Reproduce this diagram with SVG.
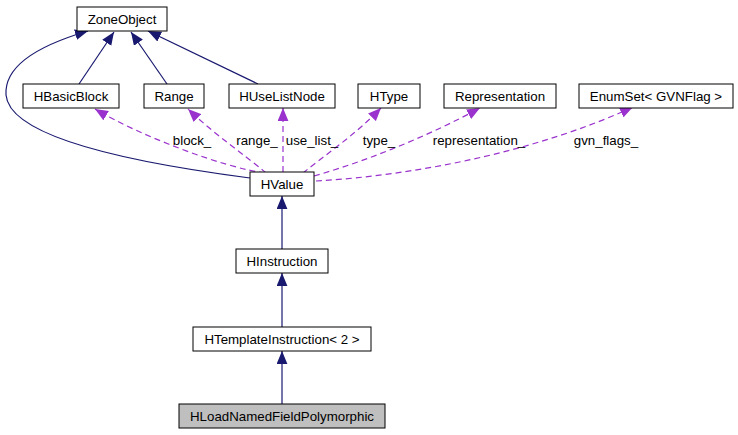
<svg xmlns="http://www.w3.org/2000/svg" width="738" height="435" viewBox="0 0 738 435">
<style>
.n rect{fill:#fff;stroke:#000;stroke-width:1}
.n text,.lbl{font-family:"Liberation Sans",Arial,sans-serif;font-size:13.3px;fill:#000;text-anchor:middle}
.inh{fill:none;stroke:#191970;stroke-width:1.2}
.use{fill:none;stroke:#9a32cd;stroke-width:1.2;stroke-dasharray:6,4}
</style>
<defs>
<marker id="ai" markerUnits="userSpaceOnUse" markerWidth="13" markerHeight="11" refX="12" refY="5" orient="auto" viewBox="0 0 12 10"><path d="M0,0 L12,5 L0,10 Z" fill="#191970"/></marker>
<marker id="au" markerUnits="userSpaceOnUse" markerWidth="13" markerHeight="11" refX="12" refY="5" orient="auto" viewBox="0 0 12 10"><path d="M0,0 L12,5 L0,10 Z" fill="#9a32cd"/></marker>
</defs>
<rect width="738" height="435" fill="#fff"/>
<g id="connectors">
<path class="inh" d="M79,84 L114,32" marker-end="url(#ai)"/>
<path class="inh" d="M167,84 L131,32" marker-end="url(#ai)"/>
<path class="inh" d="M258,84 L148,31" marker-end="url(#ai)"/>
<path class="inh" d="M250,178 C150,165 10,140 6,95 C4,65 40,45 88,31" marker-end="url(#ai)"/>
<path class="inh" d="M282,249 L282,196" marker-end="url(#ai)"/>
<path class="inh" d="M282,327 L282,273" marker-end="url(#ai)"/>
<path class="inh" d="M282,404 L282,351" marker-end="url(#ai)"/>
<path class="use" d="M265,173 C225,168 140,136 95,109" marker-end="url(#au)"/>
<path class="use" d="M266,173 C245,155 215,135 188,109" marker-end="url(#au)"/>
<path class="use" d="M283,172 L283,108" marker-end="url(#au)"/>
<path class="use" d="M303,173 C325,155 355,135 381,108" marker-end="url(#au)"/>
<path class="use" d="M314,176 C370,160 430,135 480,108" marker-end="url(#au)"/>
<path class="use" d="M316,181 C420,175 540,150 633,107" marker-end="url(#au)"/>
</g>
<g id="lbl">
<text class="lbl" x="192" y="145">block_</text>
<text class="lbl" x="257" y="145">range_</text>
<text class="lbl" x="312" y="145">use_list_</text>
<text class="lbl" x="379" y="145">type_</text>
<text class="lbl" x="479" y="145">representation_</text>
<text class="lbl" x="606" y="145">gvn_flags_</text>
</g>
<g id="ZoneObject" class="n"><rect x="77" y="7" width="90" height="24"/><text x="122" y="24">ZoneObject</text></g>
<g id="HBasicBlock" class="n"><rect x="23" y="84" width="96" height="24"/><text x="71" y="101">HBasicBlock</text></g>
<g id="Range" class="n"><rect x="144" y="84" width="60" height="24"/><text x="174" y="101">Range</text></g>
<g id="HUseListNode" class="n"><rect x="229" y="84" width="106" height="24"/><text x="282" y="101">HUseListNode</text></g>
<g id="HType" class="n"><rect x="358" y="84" width="62" height="24"/><text x="389" y="101">HType</text></g>
<g id="Representation" class="n"><rect x="444" y="84" width="112" height="24"/><text x="500" y="101">Representation</text></g>
<g id="EnumSet" class="n"><rect x="579" y="84" width="154" height="24"/><text x="656" y="101">EnumSet&lt; GVNFlag &gt;</text></g>
<g id="HValue" class="n"><rect x="250" y="172" width="64" height="24"/><text x="282" y="189">HValue</text></g>
<g id="HInstruction" class="n"><rect x="236" y="249" width="92" height="24"/><text x="282" y="266">HInstruction</text></g>
<g id="HTemplateInstruction" class="n"><rect x="193" y="327" width="178" height="24"/><text x="282" y="344">HTemplateInstruction&lt; 2 &gt;</text></g>
<g id="HLoadNamedFieldPolymorphic" class="n"><rect x="179" y="404" width="206" height="24" style="fill:#bfbfbf"/><text x="282" y="421">HLoadNamedFieldPolymorphic</text></g>
</svg>
